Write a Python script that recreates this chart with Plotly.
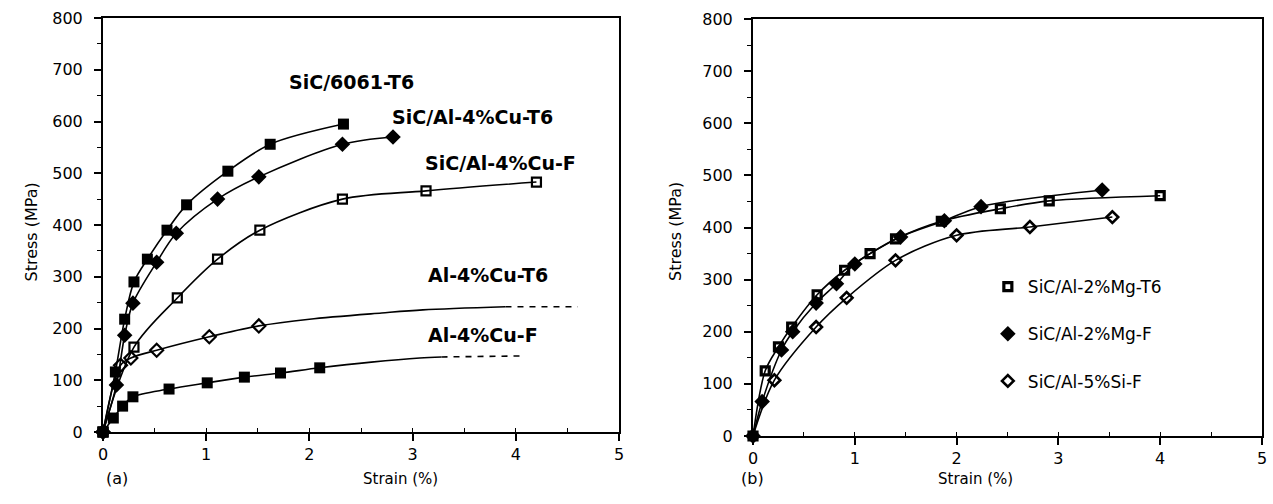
import plotly.graph_objects as go

# ---------------- data: panel (a) ----------------
a_6061_t6_x = [0, 0.12, 0.21, 0.30, 0.43, 0.62, 0.81, 1.21, 1.62, 2.33]
a_6061_t6_y = [0, 116, 218, 290, 334, 390, 439, 504, 556, 595]

a_cu_t6_x = [0, 0.13, 0.21, 0.29, 0.52, 0.71, 1.11, 1.51, 2.32, 2.81]
a_cu_t6_y = [0, 91, 187, 249, 328, 384, 450, 493, 556, 570]

a_cu_f_x = [0, 0.30, 0.72, 1.11, 1.52, 2.32, 3.13, 4.20]
a_cu_f_y = [0, 164, 259, 334, 390, 450, 466, 483]

a_al_t6_x = [0, 0.17, 0.27, 0.52, 1.03, 1.51]
a_al_t6_y = [0, 129, 143, 158, 184, 205]
a_al_t6_curve_x = [2.0, 2.7, 3.1, 3.9]
a_al_t6_curve_y = [218, 230, 236, 242]
a_al_t6_dash_x = [3.9, 4.6]
a_al_t6_dash_y = [242, 242]

a_al_f_x = [0, 0.10, 0.19, 0.29, 0.64, 1.01, 1.37, 1.72, 2.10]
a_al_f_y = [0, 27, 50, 68, 83, 95, 106, 114, 124]
a_al_f_curve_x = [2.6, 3.07, 3.28]
a_al_f_curve_y = [135, 143, 145]
a_al_f_dash_x = [3.28, 4.06]
a_al_f_dash_y = [145, 147]

# ---------------- data: panel (b) ----------------
b_mg_t6_x = [0, 0.12, 0.25, 0.38, 0.63, 0.90, 1.15, 1.40, 1.85, 2.43, 2.91, 4.00]
b_mg_t6_y = [0, 125, 171, 209, 271, 318, 350, 378, 412, 436, 451, 461]

b_mg_f_x = [0, 0.09, 0.28, 0.39, 0.62, 0.82, 1.00, 1.45, 1.88, 2.24, 3.43]
b_mg_f_y = [0, 66, 165, 200, 255, 292, 330, 382, 413, 440, 472]

b_si_f_x = [0, 0.21, 0.62, 0.92, 1.40, 2.00, 2.72, 3.53]
b_si_f_y = [0, 107, 209, 265, 337, 385, 401, 420]

x_ticks = [0, 1, 2, 3, 4, 5]
y_ticks = [0, 100, 200, 300, 400, 500, 600, 700, 800]

label_6061_t6 = "SiC/6061-T6"
label_cu_t6 = "SiC/Al-4%Cu-T6"
label_cu_f = "SiC/Al-4%Cu-F"
label_al_t6 = "Al-4%Cu-T6"
label_al_f = "Al-4%Cu-F"
label_mg_t6 = "SiC/Al-2%Mg-T6"
label_mg_f = "SiC/Al-2%Mg-F"
label_si_f = "SiC/Al-5%Si-F"

FONT = "DejaVu Sans"
fig = go.Figure()


def curve(xs, ys, xa, ya, dash="solid"):
    fig.add_trace(go.Scatter(
        x=xs, y=ys, mode="lines", xaxis=xa, yaxis=ya, showlegend=False,
        hoverinfo="skip",
        line=dict(color="black", width=1.6, shape="spline", smoothing=0.9, dash=dash),
    ))


def markers(xs, ys, xa, ya, symbol, size, lw=0, name=None, legend=False, group=None):
    fig.add_trace(go.Scatter(
        x=xs, y=ys, mode="markers", xaxis=xa, yaxis=ya, name=name,
        showlegend=legend, legendgroup=group, cliponaxis=False,
        marker=dict(symbol=symbol, size=size, color="black",
                    line=dict(color="black", width=lw)),
    ))


# panel (a)
curve(a_6061_t6_x, a_6061_t6_y, "x", "y")
markers(a_6061_t6_x, a_6061_t6_y, "x", "y", "square", 11)
curve(a_cu_t6_x, a_cu_t6_y, "x", "y")
markers(a_cu_t6_x, a_cu_t6_y, "x", "y", "diamond", 12)
curve(a_cu_f_x, a_cu_f_y, "x", "y")
markers(a_cu_f_x, a_cu_f_y, "x", "y", "square-open", 9, 2.2)
curve(a_al_t6_x + a_al_t6_curve_x, a_al_t6_y + a_al_t6_curve_y, "x", "y")
curve(a_al_t6_dash_x, a_al_t6_dash_y, "x", "y", dash="6px,6px")
markers(a_al_t6_x, a_al_t6_y, "x", "y", "diamond-open", 10, 2.2)
curve(a_al_f_x + a_al_f_curve_x, a_al_f_y + a_al_f_curve_y, "x", "y")
curve(a_al_f_dash_x, a_al_f_dash_y, "x", "y", dash="6px,6px")
markers(a_al_f_x, a_al_f_y, "x", "y", "square", 11)

# panel (b)
curve(b_mg_t6_x, b_mg_t6_y, "x2", "y2")
markers(b_mg_t6_x, b_mg_t6_y, "x2", "y2", "square-open", 8, 3.2, label_mg_t6, True, "g1")
curve(b_mg_f_x, b_mg_f_y, "x2", "y2")
markers(b_mg_f_x, b_mg_f_y, "x2", "y2", "diamond", 12, 0, label_mg_f, True, "g2")
curve(b_si_f_x, b_si_f_y, "x2", "y2")
markers(b_si_f_x, b_si_f_y, "x2", "y2", "diamond-open", 9, 2.6, label_si_f, True, "g3")

axis_common = dict(
    showgrid=False, zeroline=False, showline=True, linecolor="black", linewidth=2,
    mirror=True, ticks="outside", ticklen=7, tickwidth=1.5, tickcolor="black",
    tickfont=dict(family=FONT, size=16, color="black"), automargin=False,
)

fig.update_layout(
    width=1273, height=504,
    margin=dict(l=0, r=0, t=0, b=0),
    paper_bgcolor="white", plot_bgcolor="white",
    showlegend=True,
    legend=dict(x=0.776, y=0.466, xanchor="left", yanchor="top",
                font=dict(family=FONT, size=17, color="black"),
                tracegroupgap=22, bgcolor="rgba(0,0,0,0)", itemclick=False),
    xaxis=dict(domain=[103 / 1273, 619 / 1273], range=[0, 5], tickvals=x_ticks,
               minor=dict(dtick=0.5, ticks="inside", ticklen=4, tickwidth=1.2, tickcolor="black"),
               anchor="y", **axis_common),
    yaxis=dict(domain=[1 - 432 / 504, 1 - 18 / 504], range=[0, 800], tickvals=y_ticks,
               minor=dict(dtick=50, ticks="outside", ticklen=4, tickwidth=1.2, tickcolor="black"),
               ticklabelstandoff=8, anchor="x", **axis_common),
    xaxis2=dict(domain=[753 / 1273, 1262 / 1273], range=[0, 5], tickvals=x_ticks,
                minor=dict(dtick=0.5, ticks="inside", ticklen=4, tickwidth=1.2, tickcolor="black"),
                anchor="y2", **axis_common),
    yaxis2=dict(domain=[1 - 436 / 504, 1 - 19 / 504], range=[0, 800], tickvals=y_ticks,
                minor=dict(dtick=50, ticks="outside", ticklen=4, tickwidth=1.2, tickcolor="black"),
                ticklabelstandoff=8, anchor="x2", **axis_common),
)

lab_font = dict(family=FONT, size=19, color="black", weight="bold")
for txt, x, y in [(label_6061_t6, 2.41, 676), (label_cu_t6, 3.58, 609),
                  (label_cu_f, 3.85, 520), (label_al_t6, 3.73, 303), (label_al_f, 3.68, 187)]:
    fig.add_annotation(text=txt, x=x, y=y, xref="x", yref="y", showarrow=False,
                       font=lab_font, xanchor="center", yanchor="middle")

small = dict(family=FONT, size=15, color="black")
fig.add_annotation(text="Strain (%)", x=361 / 1273, y=1 - 490 / 504, xref="paper", yref="paper",
                   showarrow=False, font=small)
fig.add_annotation(text="Strain (%)", x=1015 / 1273, y=1 - 490 / 504, xref="paper", yref="paper",
                   showarrow=False, font=small)
fig.add_annotation(text="Stress (MPa)", x=20 / 1273, y=1 - 232 / 504, xref="paper", yref="paper",
                   showarrow=False, font=dict(family=FONT, size=16, color="black"), textangle=-90)
fig.add_annotation(text="Stress (MPa)", x=676 / 1273, y=1 - 232 / 504, xref="paper", yref="paper",
                   showarrow=False, font=dict(family=FONT, size=16, color="black"), textangle=-90)
fig.add_annotation(text="(a)", x=104 / 1273, y=1 - 490 / 504, xref="paper", yref="paper",
                   showarrow=False, font=dict(family=FONT, size=16, color="black"))
fig.add_annotation(text="(b)", x=752 / 1273, y=1 - 490 / 504, xref="paper", yref="paper",
                   showarrow=False, font=dict(family=FONT, size=16, color="black"))

fig.write_html(
    "out.html",
    config={"displayModeBar": False},
    post_script="document.body.style.margin='0';document.body.style.overflow='hidden';",
)
